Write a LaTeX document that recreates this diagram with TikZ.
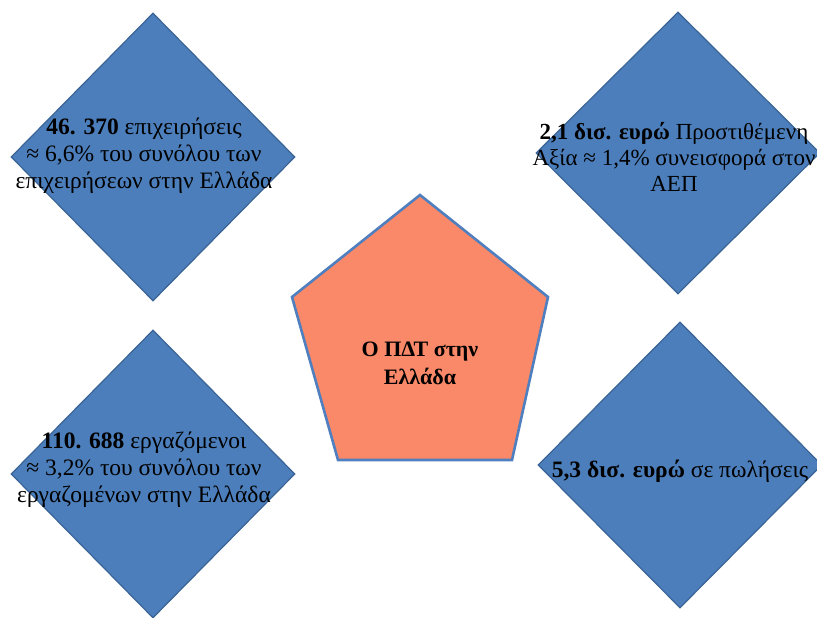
\documentclass[tikz,border=0pt]{standalone}
\usepackage{fontspec}
\setmainfont{Liberation Serif}
\newfontfamily\grfont{Liberation Serif}
\usetikzlibrary{shapes.geometric}
\definecolor{diafill}{RGB}{75,126,186}
\definecolor{diadraw}{RGB}{58,100,150}
\definecolor{pentfill}{RGB}{249,137,104}
\definecolor{pentdraw}{RGB}{79,127,190}
\tikzset{
  dia/.style={diamond, fill=diafill, draw=diadraw, line width=1.2pt, inner sep=0pt,
    minimum width=284pt, minimum height=288pt},
  txt/.style={align=center, font=\grfont\fontsize{23.5}{27}\selectfont, text=black},
  ptxt/.style={align=center, font=\grfont\fontsize{22}{28}\selectfont\bfseries, text=black}
}
\begin{document}
\begin{tikzpicture}[x=1pt,y=1pt]
\useasboundingbox (0,0) rectangle (817,618);
\fill[white] (0,0) rectangle (817,618);
% diamonds (y = 618 - image y)
\node[dia] (d1) at (153,461) {};
\node[dia, minimum height=282pt] (d2) at (678,465) {};
\node[dia] (d3) at (153,144) {};
\node[dia, minimum height=286pt] (d4) at (680,153) {};
% pentagon
\coordinate (p1) at (420,423);
\coordinate (p2) at (548,321);
\coordinate (p3) at (512,158);
\coordinate (p4) at (338,158);
\coordinate (p5) at (292,321);
\draw[fill=pentfill, draw=pentdraw, line width=2.6pt, line join=miter]
  (p1) -- (p2) -- (p3) -- (p4) -- (p5) -- cycle;
% texts
\node[txt] (t1) at (144,462) {\textbf{46. 370} επιχειρήσεις\\ ≈ 6,6\% του συνόλου των\\ επιχειρήσεων στην Ελλάδα};
\node[txt, font=\grfont\fontsize{23}{26}\selectfont] (t2) at (674,461) {\textbf{2,1 δισ. ευρώ} Προστιθέμενη\\ Αξία ≈ 1,4\% συνεισφορά στον\\ ΑΕΠ};
\node[txt] (t3) at (144,148) {\textbf{110. 688} εργαζόμενοι\\ ≈ 3,2\% του συνόλου των\\ εργαζομένων στην Ελλάδα};
\node[txt] (t4) at (680,147) {\textbf{5,3 δισ. ευρώ} σε πωλήσεις};
\node[ptxt] (t5) at (420,255) {Ο ΠΔΤ στην\\ Ελλάδα};
\end{tikzpicture}
\end{document}
